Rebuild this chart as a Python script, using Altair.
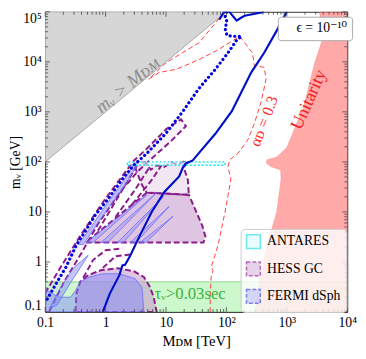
import altair as alt
import numpy as np
import pandas as pd

FONT = "Liberation Serif, DejaVu Serif, serif"

# ---------------- data (M_DM in TeV, m_V in GeV) ----------------
gray_x = [0.1, 100.0, 0.1]
gray_y = [100.0, 1e5, 1e5]

unit_x = [3500, 3800, 2900, 1870, 1440, 1000, 680, 470, 455, 550, 790, 800, 680, 470, 360, 300, 1e4, 1e4]
unit_y = [1e5, 26000, 9700, 1170, 575, 195, 125, 110, 95, 80, 69, 45, 10, 2.2, 0.5, 0.1, 0.1, 1e5]

tau_x = [0.1, 1e4]
tau_y = [0.1, 0.4]

solid_x = [0.90, 1.17, 1.70, 1.90, 2.1, 2.57, 3.7, 5.8, 9.4, 16.5, 19.1, 21.4, 27.7, 34.7, 65.5, 123, 258, 422, 684, 1000]
solid_y = [0.1, 0.23, 0.55, 0.85, 0.88, 1.34, 3.4, 10, 25, 51, 78, 93, 107, 148, 365, 1030, 6170, 15200, 42600, 1e5]

wiggle_x = [76, 92, 112, 148, 175, 200, 420]
wiggle_y = [70000, 1e5, 1e5, 66800, 76000, 83500, 1e5]

dotted_x = [0.108, 0.15, 0.22, 0.33, 0.46, 0.67, 1.09, 2.04, 2.96, 4.8, 10.1, 19, 34.7, 65.5, 106, 148, 178, 123, 102, 95, 102, 95, 102]
dotted_y = [0.18, 0.36, 0.78, 2.2, 4.1, 8.5, 18, 51, 87, 147, 378, 1020, 2880, 7080, 15100, 27200, 32500, 32500, 34000, 46600, 63800, 79000, 1e5]

alpha_x = [54, 54, 56, 60, 56, 73, 95, 119, 106, 114, 155, 224, 289, 377, 454, 422, 290, 269, 166, 73, 35, 14.8, 7.8, 5.2, 10.1, 35, 65, 88]
alpha_y = [0.1, 0.23, 0.5, 0.68, 0.78, 2.2, 10, 45, 80, 110, 148, 269, 575, 1620, 4520, 7760, 8410, 15100, 32500, 17400, 11100, 7080, 6170, 4520, 9700, 24000, 58600, 91000]

hess_trap_x = [0.47, 41.7, 45, 40, 23.9, 4.8]
hess_trap_y = [2.45, 2.45, 3.2, 5.25, 22, 24.3]
hess_up_x = [4.8, 23.9, 23, 19.9, 21.4, 16.0, 12.2, 9.5, 7.0, 5.6, 4.47, 2.96, 3.3, 4.0]
hess_up_y = [24.3, 22, 43.5, 74.7, 107, 88, 98, 80, 85.5, 70, 98, 93, 62, 34.7]
hess_band_x = [0.1, 0.169, 0.355, 0.97, 2.96, 4.82, 10.1, 17.7, 21.4, 12.2, 5.81, 3.3, 1.76, 0.748, 0.397, 0.203, 0.14, 0.116, 0.1]
hess_band_y = [0.235, 0.693, 2.92, 17.7, 107, 184, 452, 708, 517, 263, 117, 62, 25.4, 5.75, 1.49, 0.386, 0.157, 0.1, 0.1]
hess_dome_x = [0.318, 0.33, 0.38, 0.515, 0.835, 1.57, 2.96, 4.3, 5.4, 6.25, 7.0]
hess_dome_y = [0.1, 0.234, 0.40, 0.546, 0.68, 0.75, 0.65, 0.50, 0.32, 0.20, 0.1]
hess_lines = {
    "f1": ([0.748, 1.90, 3.32], [4.19, 27.7, 85.5]),
    "f2": ([1.46, 3.08, 5.19], [7.87, 27.7, 74.7]),
    "f3": ([2.75, 5.81, 8.43], [14.1, 43.5, 85.5]),
    "m1": ([0.428, 0.621, 1.0, 1.9], [0.483, 1.09, 1.71, 1.87]),
    "m2": ([0.90, 1.46, 2.75], [0.76, 1.30, 1.42]),
}

fermi_bottom_x = [0.1, 0.1, 0.169, 0.264, 0.318, 0.383, 0.555, 0.90, 1.70, 3.08, 4.0, 4.31]
fermi_bottom_y = [0.1, 0.282, 0.197, 0.197, 0.269, 0.404, 0.506, 0.579, 0.579, 0.462, 0.308, 0.1]
fermi_loop1_x = [0.116, 0.18, 0.294, 0.515, 0.428, 0.264, 0.156]
fermi_loop1_y = [0.115, 0.308, 0.759, 1.36, 0.95, 0.386, 0.137]
fermi_loop2_x = [0.355, 0.621, 1.09, 1.90, 2.96, 3.32, 2.12, 1.17, 0.668, 0.428]
fermi_loop2_y = [2.23, 5.74, 15.5, 38, 93, 85.5, 34.7, 12.9, 5.0, 2.23]
fermi_stripes = {
    "s1": ([0.479, 4.82, 0.621], [2.45, 22, 2.45]),
    "s2": ([0.835, 7.0, 1.09], [2.45, 24.3, 2.45]),
    "s3": ([1.57, 9.08, 1.97], [2.45, 20.2, 2.45]),
    "s4": ([2.56, 11.3, 3.2], [2.45, 12.9, 2.45]),
    "s5": ([3.72, 13.2, 4.65], [2.45, 8.24, 2.45]),
}

antares_x = [2.3, 95, 95, 2.3]
antares_y = [86, 86, 100, 100]

x_major = [0.1, 1, 10, 100, 1000, 10000]
y_major = [0.1, 1, 10, 100, 1000, 1e4, 1e5]

leg_names = ["ANTARES", "HESS GC", "FERMI dSph"]
leg_fill = ["#e0ffff", "#dcc0e0", "#c6c6f6"]
leg_stroke = ["#30e0e8", "#9a2aa0", "#4a4af0"]
leg_dash = [[1, 0], [4, 2], [4, 2]]

eps_label = ["ϵ = 10⁻¹⁰"]

# ---------------- helpers ----------------
W, H = 309, 307
XS = alt.Scale(type="log", domain=[0.1, 1e4], nice=False)
YS = alt.Scale(type="log", domain=[0.1, 1e5], nice=False)

labels_expr = ("datum.value < 0.5 ? '0.1' : datum.value < 5 ? '1' : datum.value < 50 ? '10' : "
               "datum.value < 500 ? '10²' : datum.value < 5000 ? '10³' : datum.value < 50000 ? '10⁴' : '10⁵'")

XAX = alt.Axis(values=x_major, labelExpr=labels_expr, title="Mᴅᴍ [TeV]", labelFlush=False,
               labelPadding=4, titlePadding=4)
YAX = alt.Axis(values=y_major, labelExpr=labels_expr, title="mᵥ [GeV]", labelFlush=True,
               labelFlushOffset=0, labelPadding=4, titlePadding=0, titleFontSize=14)


def XE(f):
    return alt.X(f, scale=XS, axis=XAX, title="Mᴅᴍ [TeV]")


def YE(f):
    return alt.Y(f, scale=YS, axis=YAX, title="mᵥ [GeV]")


def poly_df(xs, ys, gid, close=True):
    xs, ys = list(xs), list(ys)
    if close:
        xs, ys = xs + [xs[0]], ys + [ys[0]]
    return pd.DataFrame({"x": xs, "y": ys, "o": range(len(xs)), "g": gid})


def shape(df, **kw):
    return alt.Chart(df).mark_line(clip=True, **kw).encode(
        x=XE("x:Q"), y=YE("y:Q"), order="o:Q", detail="g:N")


layers = []

# green tau band
layers.append(alt.Chart(pd.DataFrame({"x": [tau_x[0]], "x2": [tau_x[1]], "y": [tau_y[0]], "y2": [tau_y[1]]}))
              .mark_rect(fill="#90ee90", fillOpacity=0.45, stroke="#7ccd7c", strokeWidth=0.8, clip=True)
              .encode(x=XE("x:Q"), x2="x2:Q", y=YE("y:Q"), y2="y2:Q"))

# unitarity
layers.append(shape(poly_df(unit_x, unit_y, "u"), fill="#ff7070", fillOpacity=0.6, stroke="#ff7070",
                    strokeWidth=0.5, strokeOpacity=0.6))
# gray region
layers.append(shape(poly_df(gray_x, gray_y, "gray"), fill="#d6d6d6", stroke="#a8a8a8", strokeWidth=1))

# HESS fills
hess_kw = dict(fill="#c8a0d0", fillOpacity=0.6, stroke="#8b1a8b", strokeWidth=2, strokeDash=[6, 3])
layers.append(shape(poly_df(hess_trap_x, hess_trap_y, "trap"), **hess_kw))
layers.append(shape(poly_df(hess_dome_x, hess_dome_y, "dome"), **hess_kw))
layers.append(shape(poly_df(hess_up_x, hess_up_y, "up"), fill="#c8a0d0", fillOpacity=0.25,
                    stroke="#8b1a8b", strokeWidth=2, strokeDash=[6, 3]))
layers.append(shape(poly_df(hess_band_x, hess_band_y, "band"), fill="#c8a0d0", fillOpacity=0.15,
                    stroke="#8b1a8b", strokeWidth=2, strokeDash=[6, 3]))
hl = pd.concat([poly_df(v[0], v[1], k, close=False) for k, v in hess_lines.items()])
layers.append(shape(hl, stroke="#8b1a8b", strokeWidth=2, strokeDash=[6, 3]))

# FERMI
fermi_kw = dict(fill="#8080ff", fillOpacity=0.45, stroke="#6a6aff", strokeWidth=0.8)
layers.append(shape(poly_df(fermi_bottom_x, fermi_bottom_y, "fb"), **fermi_kw))
layers.append(shape(poly_df(fermi_loop1_x, fermi_loop1_y, "fl1"), **fermi_kw))
layers.append(shape(poly_df(fermi_loop2_x, fermi_loop2_y, "fl2"), **fermi_kw))
fs = pd.concat([poly_df(v[0], v[1], k) for k, v in fermi_stripes.items()])
layers.append(shape(fs, fill="#8080ff", fillOpacity=0.35, stroke="#6a6aff", strokeWidth=0.8))

# ANTARES
layers.append(shape(poly_df(antares_x, antares_y, "ant"), fill="#e0ffff", fillOpacity=0.6,
                    stroke="#20e0f0", strokeWidth=1.5, strokeDash=[2, 2]))

# lines
layers.append(shape(poly_df(alpha_x, alpha_y, "a", close=False), stroke="#ff4040", strokeWidth=1,
                    strokeDash=[5, 3]))
layers.append(shape(poly_df(dotted_x, dotted_y, "d", close=False), stroke="#0000e0", strokeWidth=3.2,
                    strokeDash=[0.1, 4.6], strokeCap="round"))
layers.append(shape(poly_df(solid_x, solid_y, "s", close=False), stroke="#0010c8", strokeWidth=2.2))
layers.append(shape(poly_df(wiggle_x, wiggle_y, "w", close=False), stroke="#0010c8", strokeWidth=2.2))

# inward ticks
TICK = "#444444"
x_minor = [m * d for d in [0.1, 1, 10, 100, 1000] for m in range(2, 10)]
y_minor = [m * d for d in [0.1, 1, 10, 100, 1000, 1e4] for m in range(2, 10)]
for vals, ln in ((x_major, 5), (x_minor, 3)):
    tdf = pd.DataFrame({"x": vals})
    layers.append(alt.Chart(tdf).mark_rule(color=TICK, strokeWidth=0.8)
                  .encode(x=XE("x:Q"), y=alt.value(H), y2=alt.value(H - ln)))
    layers.append(alt.Chart(tdf).mark_rule(color=TICK, strokeWidth=0.8)
                  .encode(x=XE("x:Q"), y=alt.value(0), y2=alt.value(ln)))
for vals, ln in ((y_major, 5), (y_minor, 3)):
    tdf = pd.DataFrame({"y": vals})
    layers.append(alt.Chart(tdf).mark_rule(color=TICK, strokeWidth=0.8)
                  .encode(y=YE("y:Q"), x=alt.value(0), x2=alt.value(ln)))
    layers.append(alt.Chart(tdf).mark_rule(color=TICK, strokeWidth=0.8)
                  .encode(y=YE("y:Q"), x=alt.value(W), x2=alt.value(W - ln)))


# text annotations
def label(x, y, text, **kw):
    return alt.Chart(pd.DataFrame({"x": [x], "y": [y], "t": [text]})).mark_text(font=FONT, **kw).encode(
        x=XE("x:Q"), y=YE("y:Q"), text="t:N")


layers.append(label(2.29, 3420, "mᵥ > Mᴅᴍ", angle=320.4, fontSize=19, color="#8c8c8c", fontStyle="italic"))
layers.append(label(2340, 1740, "Unitarity", angle=294.2, fontSize=18, color="#ee2020"))
layers.append(label(422, 647, "αᴅ = 0.3", angle=291, fontSize=16, color="#ff2a2a"))
layers.append(label(25, 0.225, "τᵥ>0.03sec", fontSize=17, color="#3cb43c"))

# legend (no visible marks: coordinates are null)
leg_df = pd.DataFrame({"name": leg_names, "x": [np.nan] * 3, "y": [np.nan] * 3})
leg = alt.Legend(title=None, orient="none", legendX=200, legendY=222, fillColor="rgba(255,255,255,0.8)",
                 strokeColor="#cccccc", cornerRadius=4, padding=5, rowPadding=6, symbolSize=200,
                 symbolStrokeWidth=1.5, labelFontSize=14, labelFont=FONT, labelOffset=6, symbolType="square")
layers.append(alt.Chart(leg_df).mark_point(shape="square", filled=True, clip=True).encode(
    x=XE("x:Q"), y=YE("y:Q"),
    fill=alt.Fill("name:N", scale=alt.Scale(domain=leg_names, range=leg_fill), legend=leg),
    stroke=alt.Stroke("name:N", scale=alt.Scale(domain=leg_names, range=leg_stroke), legend=leg),
    strokeDash=alt.StrokeDash("name:N", scale=alt.Scale(domain=leg_names, range=leg_dash), legend=leg),
))

eps_df = pd.DataFrame({"eps": eps_label, "x": [np.nan], "y": [np.nan]})
eps_leg = alt.Legend(title=None, orient="none", legendX=238, legendY=5, fillColor="white",
                     strokeColor="#aaaaaa", cornerRadius=3, padding=5, symbolSize=0, symbolOpacity=0,
                     symbolStrokeWidth=0, labelOffset=0, labelFontSize=14, labelFont=FONT)
layers.append(alt.Chart(eps_df).mark_point(clip=True).encode(
    x=XE("x:Q"), y=YE("y:Q"),
    shape=alt.Shape("eps:N", scale=alt.Scale(domain=eps_label, range=["square"]), legend=eps_leg)))

chart = alt.layer(*layers).properties(
    width=W, height=H,
    autosize=alt.AutoSizeParams(type="none"),
    padding={"left": 38, "top": 0, "right": 11, "bottom": 35},
).configure_view(stroke="#333333", strokeWidth=1).configure_axis(
    grid=False, ticks=False, domain=False, labelFont=FONT, titleFont=FONT, labelFontSize=14,
    titleFontSize=15, labelColor="black", titleColor="black", titleFontWeight="normal",
).configure_legend(labelColor="black")

chart.save("out.html", embed_options={"renderer": "svg", "actions": False})
